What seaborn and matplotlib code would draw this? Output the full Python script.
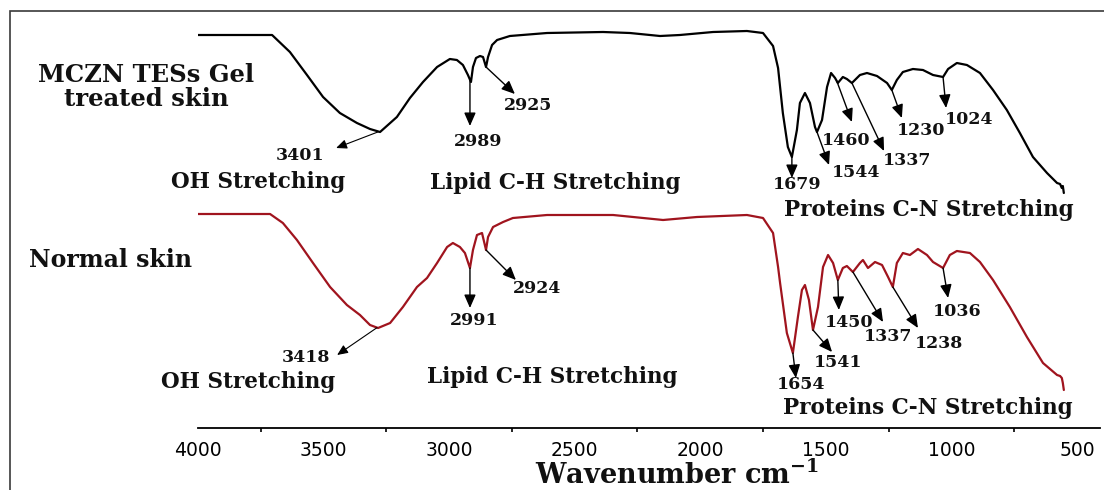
import numpy as np
import pandas as pd
import matplotlib
matplotlib.use("Agg")
import matplotlib.pyplot as plt
import seaborn as sns
from matplotlib.patches import Rectangle

# ---- spectra (wavenumber in cm-1, transmittance in arbitrary offset units) ----
sample_names = ["MCZN TESs Gel\ntreated skin", "Normal skin"]

wn_treated = [4000, 3705, 3634, 3566, 3502, 3435, 3367, 3315, 3275, 3208, 3156, 3104,
              3048, 2997, 2969, 2945, 2925, 2913, 2905, 2893, 2877, 2865, 2853, 2845,
              2829, 2809, 2758, 2610, 2387, 2280, 2160, 2081, 1949, 1814, 1750, 1710,
              1690, 1671, 1651, 1635, 1615, 1603, 1583, 1563, 1543, 1535, 1515, 1495,
              1479, 1463, 1452, 1432, 1416, 1396, 1364, 1336, 1296, 1256, 1237, 1217,
              1193, 1153, 1113, 1073, 1033, 1013, 978, 938, 886, 834, 779, 727, 675,
              619, 579, 567, 560, 556, 552]
t_treated = [393, 393, 376, 353, 331, 315, 305, 299, 296, 311, 330, 346,
             361, 369, 368, 363, 353, 346, 361, 370, 372, 371, 361, 371,
             383, 388, 392, 395, 396, 395, 392, 393, 396, 397, 395, 382,
             360, 315, 281, 271, 298, 325, 335, 325, 301, 296, 308, 341,
             355, 350, 345, 351, 349, 345, 353, 355, 352, 345, 338, 348,
             356, 359, 358, 353, 351, 359, 365, 363, 355, 338, 318, 295, 271,
             255, 245, 244, 240, 242, 235]

wn_normal = [4000, 3713, 3662, 3606, 3542, 3474, 3407, 3355, 3315, 3283, 3235, 3184,
             3128, 3088, 3048, 3008, 2985, 2957, 2937, 2917, 2905, 2889, 2869, 2853,
             2845, 2825, 2785, 2746, 2610, 2347, 2148, 2013, 1814, 1750, 1710, 1690,
             1682, 1655, 1631, 1611, 1595, 1583, 1567, 1551, 1531, 1511, 1491, 1471,
             1452, 1432, 1416, 1392, 1364, 1352, 1332, 1304, 1276, 1252, 1233, 1217,
             1193, 1165, 1133, 1097, 1073, 1033, 1006, 978, 926, 886, 834, 767, 699,
             635, 579, 567, 560, 556, 552]
t_normal = [214, 214, 205, 188, 165, 141, 123, 113, 103, 100, 105, 121,
            141, 150, 165, 181, 185, 181, 175, 160, 178, 193, 195, 178,
            191, 201, 206, 210, 213, 213, 208, 211, 213, 210, 195, 161,
            145, 95, 75, 111, 138, 143, 128, 98, 121, 161, 173, 165,
            148, 160, 162, 156, 165, 168, 160, 166, 163, 151, 141, 165,
            175, 173, 179, 173, 166, 160, 173, 177, 175, 166, 148, 121, 91,
            65, 53, 52, 50, 45, 38]

tick_values = [4000, 3500, 3000, 2500, 2000, 1500, 1000, 500]
minor_tick_values = [3750, 3250, 2750, 2250, 1750, 1250, 750]

# ---- band assignments ----
treated_peak_labels = ["3401", "2989", "2925", "1679", "1544", "1460", "1337", "1230", "1024"]
treated_peak_wn = [3280, 2917, 2853, 1635, 1535, 1456, 1396, 1237, 1033]
normal_peak_labels = ["3418", "2991", "2924", "1654", "1541", "1450", "1337", "1238", "1036"]
normal_peak_wn = [3287, 2917, 2853, 1631, 1551, 1452, 1392, 1233, 1033]
group_labels = ["OH Stretching", "Lipid C-H Stretching", "Proteins C-N Stretching"]

# ---- annotation layout (arrow head and label centre, data coordinates) ----
treated_heads = [(3450, 280), (2917, 302), (2738, 334), (1635, 250), (1487, 263),
                 (1396, 306), (1268, 277), (1197, 310), (1021, 320)]
treated_text = [(3594, 273), (2885, 287), (2686, 323), (1615, 244), (1380, 256),
                (1420, 288), (1177, 268), (1121, 298), (930, 309)]
normal_heads = [(3446, 73), (2917, 120), (2734, 148), (1619, 50), (1475, 76),
                (1448, 118), (1272, 106), (1133, 100), (1013, 130)]
normal_text = [(3570, 71), (2901, 108), (2650, 140), (1599, 44), (1452, 66),
               (1408, 106), (1252, 92), (1049, 85), (978, 117)]
treated_group_pos = [(3761, 246), (2578, 245), (1089, 218)]
normal_group_pos = [(3801, 46), (2590, 51), (1093, 20)]
sample_label_pos = [(4207, 341), (4350, 168)]

sns.set_theme(style="white")
plt.rcParams["font.family"] = ["DejaVu Sans"]
plt.rcParams["mathtext.fontset"] = "dejavuserif"

df = pd.concat([
    pd.DataFrame({"wavenumber": wn_treated, "transmittance": t_treated,
                  "sample": sample_names[0]}),
    pd.DataFrame({"wavenumber": wn_normal, "transmittance": t_normal,
                  "sample": sample_names[1]}),
], ignore_index=True)

W, H = 1104, 490
fig = plt.figure(figsize=(W / 100, H / 100), dpi=100, facecolor="white")
ax = fig.add_axes([198 / W, 1 - 428 / H, (1100 - 198) / W, (428 - 11) / H])
ax.set_facecolor("none")

palette = {sample_names[0]: "black", sample_names[1]: "#a0141e"}
sns.lineplot(data=df, x="wavenumber", y="transmittance", hue="sample",
             palette=palette, estimator=None, legend=False, lw=1.6, ax=ax)

ax.set_xlim(4000, 408)
ax.set_ylim(0, 417)
ax.set_xlabel("")
ax.set_ylabel("")
ax.set_yticks([])
for side in ["left", "right", "top"]:
    ax.spines[side].set_visible(False)
ax.spines["bottom"].set_color("black")
ax.spines["bottom"].set_linewidth(1.3)
ax.set_xticks(tick_values)
ax.set_xticks(minor_tick_values, minor=True)
ax.tick_params(axis="x", which="major", direction="out", length=5, width=1.3,
               color="black", labelsize=13.5, pad=4, labelcolor="black")
ax.tick_params(axis="x", which="minor", direction="out", length=3, width=1.2,
               color="black", bottom=True)

serif_bold = dict(family="DejaVu Serif", weight="bold", color="#111111")


def annotate_spectrum(wn, tr, labels, peaks, heads, texts, groups, group_pos):
    order = np.argsort(wn)
    xs = np.asarray(wn, dtype=float)[order]
    ys = np.asarray(tr, dtype=float)[order]
    for lab, pk, head, txt in zip(labels, peaks, heads, texts):
        tail = (pk, np.interp(pk, xs, ys))
        big = lab not in ("3401", "3418")
        ax.annotate("", xy=head, xytext=tail,
                    arrowprops=dict(arrowstyle="-|>,head_length=0.8,head_width=0.35",
                                    mutation_scale=10 if big else 8,
                                    lw=1.0 if big else 0.8, color="black",
                                    shrinkA=0, shrinkB=0))
        ax.text(txt[0], txt[1], lab, ha="center", va="center", fontsize=12.5,
                **serif_bold)
    for g, pos in zip(groups, group_pos):
        ax.text(pos[0], pos[1], g, ha="center", va="center", fontsize=15.5,
                **serif_bold)


annotate_spectrum(wn_treated, t_treated, treated_peak_labels, treated_peak_wn,
                  treated_heads, treated_text, group_labels, treated_group_pos)
annotate_spectrum(wn_normal, t_normal, normal_peak_labels, normal_peak_wn,
                  normal_heads, normal_text, group_labels, normal_group_pos)

for name, pos, fs in zip(sample_names, sample_label_pos, [17.5, 17]):
    ax.text(pos[0], pos[1], name, ha="center", va="center", fontsize=fs,
            multialignment="center", linespacing=1.05, clip_on=False, **serif_bold)

fig.text(677 / W, 1 - 484 / H, r"Wavenumber cm$^{\mathbf{-1}}$", ha="center",
         va="baseline", fontsize=19.5, **serif_bold)

fig.patches.append(Rectangle((10 / W, -0.05), 1.0, 1 - 11 / H + 0.05,
                             transform=fig.transFigure, fill=False,
                             edgecolor="#3a3a3a", lw=1.2))

fig.savefig("out.png", dpi=100, facecolor="white")
